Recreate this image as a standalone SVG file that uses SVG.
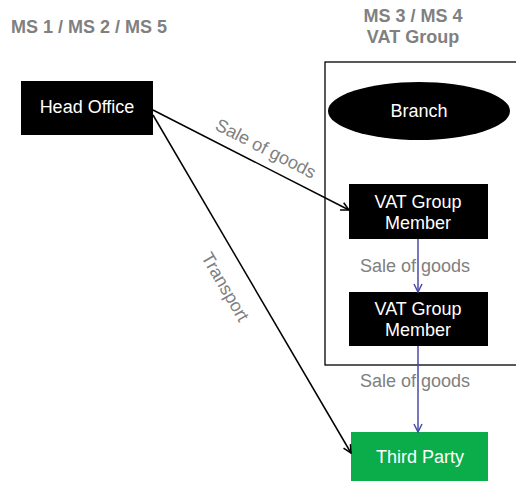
<svg xmlns="http://www.w3.org/2000/svg" width="516" height="481" viewBox="0 0 516 481">
<style>
.hdr{font-family:"Liberation Sans",Arial,sans-serif;font-size:18px;font-weight:bold;fill:#808080;text-anchor:middle}
.lbl{font-family:"Liberation Sans",Arial,sans-serif;font-size:18px;fill:#ffffff;text-anchor:middle}
.elbl{font-family:"Liberation Sans",Arial,sans-serif;font-size:18px;fill:#808080;text-anchor:middle}
.blk{fill:#000000}
</style>
<defs>
<marker id="ab" viewBox="0 0 10 10" refX="9" refY="5" markerWidth="10" markerHeight="10" markerUnits="userSpaceOnUse" orient="auto">
<path d="M1,1 L9,5 L1,9" fill="none" stroke="#000" stroke-width="1.5"/>
</marker>
<marker id="au" viewBox="0 0 10 10" refX="9" refY="5" markerWidth="10" markerHeight="10" markerUnits="userSpaceOnUse" orient="auto">
<path d="M1,1 L9,5 L1,9" fill="none" stroke="#4a4aa8" stroke-width="1.5"/>
</marker>
</defs>
<text class="hdr" x="89" y="33">MS 1 / MS 2 / MS 5</text>
<text class="hdr" x="413" y="22">MS 3 / MS 4</text>
<text class="hdr" x="413" y="43">VAT Group</text>
<g id="container"><rect x="325" y="62" width="200" height="303" fill="none" stroke="#000" stroke-width="1.3"/></g>
<g id="head-office"><rect class="blk" x="21" y="81" width="132" height="54"/><text class="lbl" x="87" y="113">Head Office</text></g>
<g id="branch"><ellipse class="blk" cx="419" cy="111" rx="91" ry="29"/><text class="lbl" x="419" y="117">Branch</text></g>
<g id="member1"><rect class="blk" x="349" y="184" width="139" height="55"/><text class="lbl" x="418" y="208">VAT Group</text><text class="lbl" x="418" y="229">Member</text></g>
<g id="member2"><rect class="blk" x="349" y="292" width="139" height="54"/><text class="lbl" x="418" y="315">VAT Group</text><text class="lbl" x="418" y="336">Member</text></g>
<g id="third-party"><rect x="351" y="432" width="137" height="49" fill="#0bad4a"/><text class="lbl" x="420" y="463">Third Party</text></g>
<g id="connectors" fill="none">
<line x1="153" y1="110" x2="349" y2="210" stroke="#000" stroke-width="1.5" marker-end="url(#ab)"/>
<line x1="153" y1="115" x2="351" y2="453" stroke="#000" stroke-width="1.5" marker-end="url(#ab)"/>
<line x1="418" y1="239" x2="418" y2="292" stroke="#4a4aa8" stroke-width="1.5" marker-end="url(#au)"/>
<line x1="418" y1="346" x2="418" y2="432" stroke="#4a4aa8" stroke-width="1.5" marker-end="url(#au)"/>
<text class="elbl" transform="translate(263,154) rotate(27)">Sale of goods</text>
<text class="elbl" transform="translate(220,290) rotate(59.6)">Transport</text>
<text class="elbl" x="415" y="272">Sale of goods</text>
<text class="elbl" x="415" y="387">Sale of goods</text>
</g>
</svg>
